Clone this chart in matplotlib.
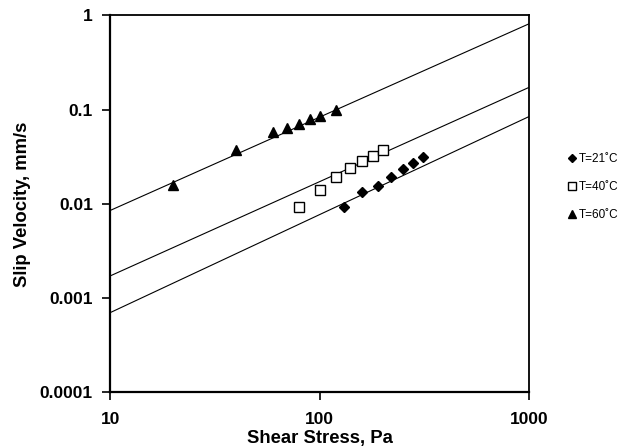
import matplotlib

matplotlib.use("Agg")
import matplotlib.pyplot as plt
import numpy as np
from matplotlib.ticker import FixedLocator, FixedFormatter, NullLocator

plt.rcParams["font.family"] = ["Liberation Sans", "DejaVu Sans"]

# shear stress (Pa) and slip velocity (mm/s) per temperature
stress_21 = [130, 160, 190, 220, 250, 280, 310]
slip_21 = [0.0092, 0.0132, 0.0153, 0.0192, 0.0232, 0.0272, 0.0313]

stress_40 = [80, 100, 120, 140, 160, 180, 200]
slip_40 = [0.0092, 0.0141, 0.0192, 0.0241, 0.0282, 0.0323, 0.0372]

stress_60 = [20, 40, 60, 70, 80, 90, 100, 120]
slip_60 = [0.016, 0.037, 0.058, 0.064, 0.071, 0.079, 0.086, 0.10]

# power-law fits V = k * tau^n  (21, 40, 60 C)
fit_k = [6.4e-5, 1.72e-4, 8.7e-4]
fit_n = [1.04, 1.0, 0.99]

x_ticks = [10, 100, 1000]
x_labels = ["10", "100", "1000"]
y_ticks = [0.0001, 0.001, 0.01, 0.1, 1]
y_labels = ["0.0001", "0.001", "0.01", "0.1", "1"]

fig = plt.figure(figsize=(6.33, 4.47), dpi=100)
ax = fig.add_axes([0.174, 0.122, 0.662, 0.844])

tau = np.array([10.0, 1000.0])
for k, n in zip(fit_k, fit_n):
    ax.plot(tau, k * tau ** n, color="black", linewidth=0.8)

ax.plot(stress_21, slip_21, "D", color="black", markersize=4.6, linestyle="none", label="T=21˚C")
ax.plot(stress_40, slip_40, "s", markerfacecolor="white", markeredgecolor="black",
        markeredgewidth=1.0, markersize=6.5, linestyle="none", label="T=40˚C")
ax.plot(stress_60, slip_60, "^", color="black", markersize=6.8, linestyle="none", label="T=60˚C")

ax.set_xscale("log")
ax.set_yscale("log")
ax.set_xlim(10, 1000)
ax.set_ylim(0.0001, 1)
ax.xaxis.set_major_locator(FixedLocator(x_ticks))
ax.xaxis.set_major_formatter(FixedFormatter(x_labels))
ax.yaxis.set_major_locator(FixedLocator(y_ticks))
ax.yaxis.set_major_formatter(FixedFormatter(y_labels))
ax.xaxis.set_minor_locator(NullLocator())
ax.yaxis.set_minor_locator(NullLocator())
ax.tick_params(direction="out", length=6, width=1.2, labelsize=12.5)
ax.tick_params(axis="y", pad=6.5)
ax.tick_params(axis="x", pad=8)
for lab in ax.get_xticklabels() + ax.get_yticklabels():
    lab.set_fontweight("bold")

for side in ["left", "bottom"]:
    ax.spines[side].set_linewidth(1.6)
for side in ["top", "right"]:
    ax.spines[side].set_linewidth(1.3)

ax.set_xlabel("Shear Stress, Pa", fontsize=13.3, fontweight="bold", labelpad=2)
ax.set_ylabel("Slip Velocity, mm/s", fontsize=13.3, fontweight="bold", labelpad=6)

ax.legend(loc="upper left", bbox_to_anchor=(0.888, 0.671), bbox_transform=fig.transFigure,
          frameon=False, fontsize=8.5, handlelength=0.6, handletextpad=0.3,
          labelspacing=1.37, markerscale=0.85, borderpad=0)

fig.savefig("out.png", dpi=100)
